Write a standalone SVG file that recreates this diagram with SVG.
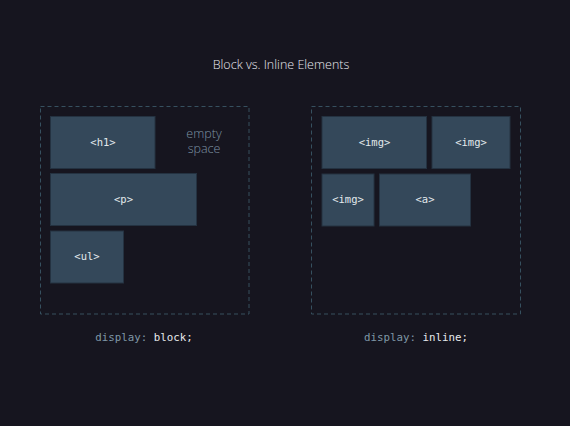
<svg xmlns="http://www.w3.org/2000/svg" width="570" height="426" viewBox="0 0 570 426">
<style>
.bg{fill:#16151f}
.cont{fill:none;stroke:#36505f;stroke-width:1;stroke-dasharray:4 3}
.box{fill:#34485a;stroke:#243241;stroke-width:1}
.tag{font-family:"DejaVu Sans Mono",monospace;font-size:10.5px;fill:#e2e8ec;text-anchor:middle}
.title{font-family:"Open Sans","Noto Sans",sans-serif;font-weight:300;font-size:12.5px;fill:#e8e8ee;text-anchor:middle}
.note{font-family:"Open Sans","Noto Sans",sans-serif;font-weight:300;font-size:12.5px;fill:#7d93a3;text-anchor:middle}
.code{font-family:"DejaVu Sans Mono",monospace;font-size:10.8px;text-anchor:middle}
.k{fill:#7f97a6}
.v{fill:#e6e9ec}
</style>
<rect class="bg" x="0" y="0" width="570" height="426"/>
<text class="title" x="281" y="69">Block vs. Inline Elements</text>
<g id="block-container">
<rect class="cont" x="40.5" y="106.5" width="208.5" height="207.5"/>
</g>
<g id="h1"><rect class="box" x="50.5" y="116.5" width="104.5" height="52"/><text class="tag" x="103" y="146">&lt;h1&gt;</text></g>
<g id="empty-space"><text class="note" x="204" y="137.5">empty</text><text class="note" x="204" y="153">space</text></g>
<g id="p"><rect class="box" x="50.5" y="173.5" width="146" height="52"/><text class="tag" x="123.5" y="203">&lt;p&gt;</text></g>
<g id="ul"><rect class="box" x="50.5" y="231" width="73" height="52"/><text class="tag" x="87" y="260">&lt;ul&gt;</text></g>
<g id="block-label"><text class="code" x="144" y="341"><tspan class="k">display: </tspan><tspan class="v">block;</tspan></text></g>
<g id="inline-container">
<rect class="cont" x="311.5" y="106.5" width="209" height="207.5"/>
</g>
<g id="img1"><rect class="box" x="322" y="116.5" width="104.5" height="52"/><text class="tag" x="374.5" y="146">&lt;img&gt;</text></g>
<g id="img2"><rect class="box" x="432" y="116.5" width="78" height="52"/><text class="tag" x="471" y="146">&lt;img&gt;</text></g>
<g id="img3"><rect class="box" x="322" y="174" width="52" height="52"/><text class="tag" x="348" y="203">&lt;img&gt;</text></g>
<g id="a"><rect class="box" x="379.5" y="174" width="91" height="52"/><text class="tag" x="425" y="203">&lt;a&gt;</text></g>
<g id="inline-label"><text class="code" x="416" y="341"><tspan class="k">display: </tspan><tspan class="v">inline;</tspan></text></g>
<g id="connectors"></g>
</svg>
